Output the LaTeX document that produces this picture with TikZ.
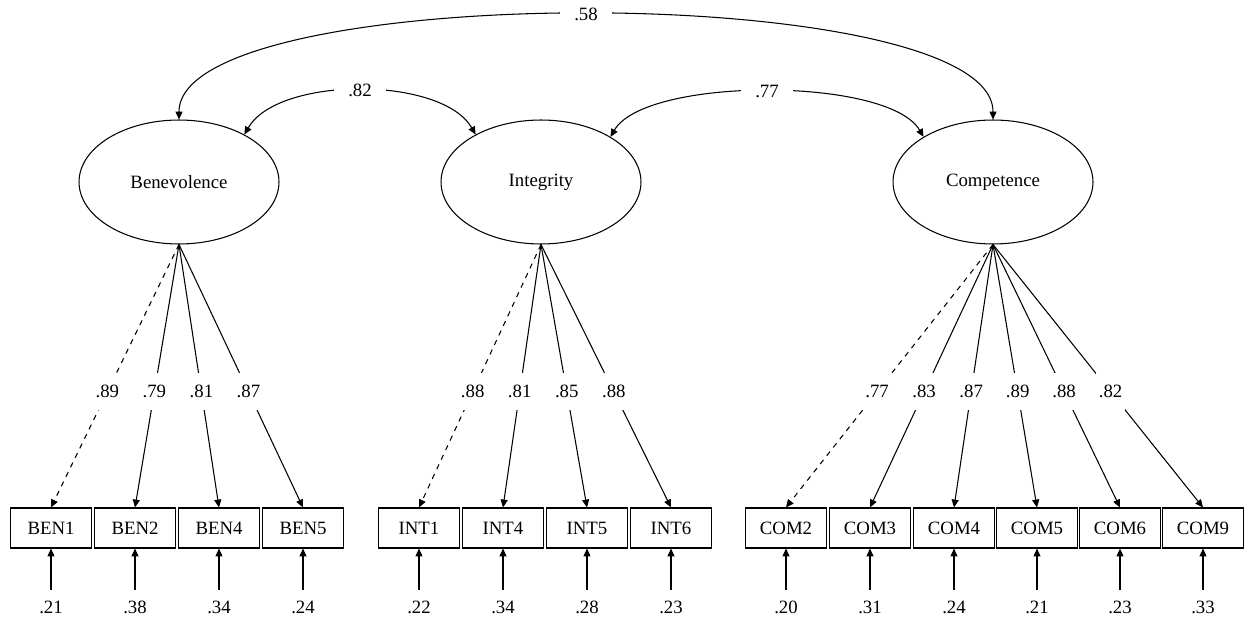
\documentclass[tikz,border=0pt]{standalone}
\usepackage{fontspec}
\setmainfont{Liberation Serif}
\usepackage{tikz}
\usetikzlibrary{positioning, arrows.meta, shapes.geometric}

\begin{document}
\begin{tikzpicture}[x=0.02cm, y=0.02cm, line width=0.6pt, font=\fontsize{10.7}{12}\selectfont]
	\tikzset{
		latent/.style={ellipse, draw, minimum width=4cm, minimum height=2.48cm, inner sep=0pt},
		item/.style={rectangle, draw, minimum width=1.62cm, minimum height=0.8cm, inner sep=0pt},
		load/.style={-{Triangle[length=4.5pt, width=4pt]}},
		cov/.style={{Triangle[length=4.5pt, width=4pt]}-{Triangle[length=4.5pt, width=4pt]}},
		coef/.style={fill=white, inner xsep=1.5pt, inner ysep=7pt},
		rlab/.style={fill=white, inner xsep=8pt, inner ysep=2pt}
	}
	\useasboundingbox (0,0) rectangle (1244,620);
	
	% latent factors
	\node[latent] (ben) at (179,438) {Benevolence};
	\node[latent] (int) at (541,438) {Integrity};
	\node[latent] (com) at (993,438) {Competence};
	
	% correlations
	\draw[cov] (ben.north) to[out=90, in=90, looseness=0.44] node[rlab] {.58} (com.north);
	\draw[cov] (ben.36) to[out=60, in=120, looseness=0.75] node[rlab] {.82} (int.144);
	\draw[cov] (int.33) to[out=60, in=120, looseness=0.57] node[rlab] {.77} (com.147);
	
	% indicators
	\foreach \n/\x in {1/51, 2/135, 4/219, 5/303}
		\node[item] (BEN\n) at (\x,92) {BEN\n};
	\foreach \n/\x in {1/419, 4/503, 5/587, 6/671}
		\node[item] (INT\n) at (\x,92) {INT\n};
	\foreach \n/\x in {2/786, 3/870, 4/954, 5/1037, 6/1120, 9/1203}
		\node[item] (COM\n) at (\x,92) {COM\n};
	
	% loadings
	\draw[load, dashed] (ben.south) -- node[coef, pos=0.56] {.89} (BEN1.north);
	\foreach \n/\v in {2/.79, 4/.81, 5/.87}
		\draw[load] (ben.south) -- node[coef, pos=0.56] {\v} (BEN\n.north);
	
	\draw[load, dashed] (int.south) -- node[coef, pos=0.56] {.88} (INT1.north);
	\foreach \n/\v in {4/.81, 5/.85, 6/.88}
		\draw[load] (int.south) -- node[coef, pos=0.56] {\v} (INT\n.north);
	
	\draw[load, dashed] (com.south) -- node[coef, pos=0.56] {.77} (COM2.north);
	\foreach \n/\v in {3/.83, 4/.87, 5/.89, 6/.88, 9/.82}
		\draw[load] (com.south) -- node[coef, pos=0.56] {\v} (COM\n.north);
	
	% error terms
	\foreach \b/\n/\x/\v in {BEN/1/51/.21, BEN/2/135/.38, BEN/4/219/.34, BEN/5/303/.24,
			INT/1/419/.22, INT/4/503/.34, INT/5/587/.28, INT/6/671/.23,
			COM/2/786/.20, COM/3/870/.31, COM/4/954/.24, COM/5/1037/.21, COM/6/1120/.23, COM/9/1203/.33} {
		\coordinate (e\b\n) at (\x,30);
		\node (l\b\n) at (\x,13) {\v};
		\draw[load] (e\b\n) -- (\b\n.south);
	}
\end{tikzpicture}
\end{document}
